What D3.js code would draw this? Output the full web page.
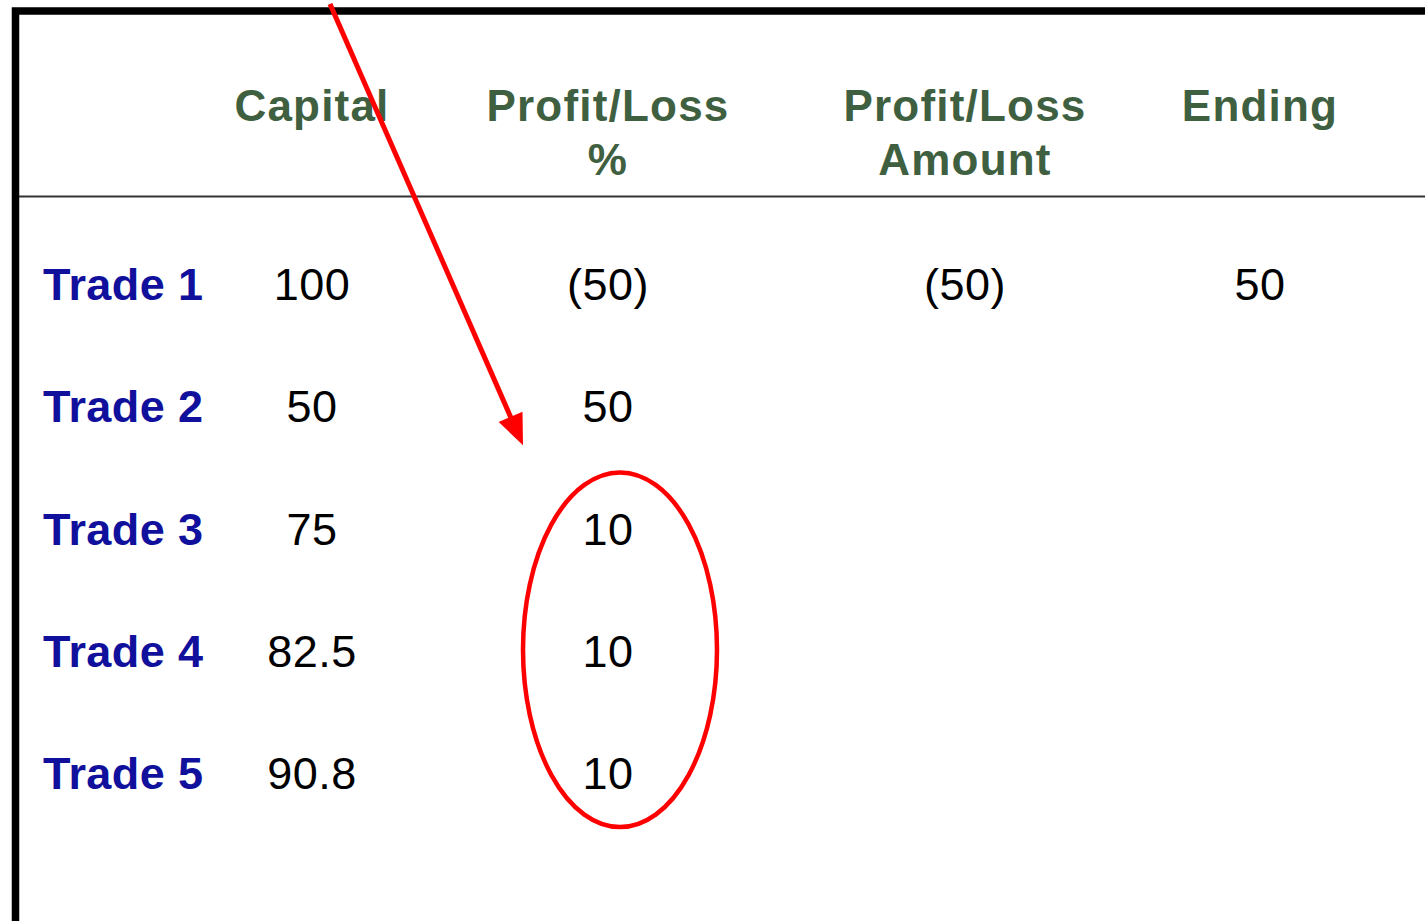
<!DOCTYPE html>
<html>
<head>
<meta charset="utf-8">
<script src="https://cdn.jsdelivr.net/npm/d3@7"></script>
<style>
  html, body { margin: 0; padding: 0; background: #fff; }
  svg { display: block; }
  .hdr { font-family: "Liberation Sans", Arial, sans-serif; font-weight: bold; fill: #3f6040; font-size: 44px; letter-spacing: 1.2px; }
  .rowLbl { font-family: "Liberation Sans", Arial, sans-serif; font-weight: bold; fill: #10109c; font-size: 45px; letter-spacing: 0.4px; }
  .cell { font-family: "Liberation Sans", Arial, sans-serif; fill: #000; font-size: 45px; letter-spacing: 0.5px; }
</style>
</head>
<body>
<div id="chart"></div>
<script>
let width = 1425;
let height = 921;

// table contents
let rows = ["Trade 1", "Trade 2", "Trade 3", "Trade 4", "Trade 5"];
let columns = ["capital", "plPct", "plAmt", "ending"];
let headerLines = [["Capital"], ["Profit/Loss", "%"], ["Profit/Loss", "Amount"], ["Ending"]];
let capital = ["100", "50", "75", "82.5", "90.8"];
let plPct = ["(50)", "50", "10", "10", "10"];
let plAmt = ["(50)", "", "", "", ""];
let ending = ["50", "", "", "", ""];

let colValues = { capital: capital, plPct: plPct, plAmt: plAmt, ending: ending };

// rows circled on the annotation
let circled = ["Trade 3", "Trade 4", "Trade 5"];

let svg = d3.select("#chart")
  .append("svg")
    .attr("width", width)
    .attr("height", height);

let yScale = d3.scalePoint()
  .domain(rows)
  .range([300, 789]);

let xScale = d3.scaleOrdinal()
  .domain(columns)
  .range([312, 608, 965, 1260]);

// frame
svg.append("path")
  .attr("d", "M15.5," + height + " V11 H" + width)
  .attr("fill", "none")
  .attr("stroke", "#000")
  .attr("stroke-width", 7.5);

// header rule
svg.append("line")
  .attr("x1", 19).attr("x2", width)
  .attr("y1", 196.5).attr("y2", 196.5)
  .attr("stroke", "#333")
  .attr("stroke-width", 2);

// headers
let hdr = svg.selectAll(".hdr")
  .data(columns)
  .enter()
  .append("text")
    .attr("class", "hdr")
    .attr("text-anchor", "middle")
    .attr("x", d => xScale(d))
    .attr("y", 121);

hdr.selectAll("tspan")
  .data((d, i) => headerLines[i].map(t => ({ t: t, col: d })))
  .enter()
  .append("tspan")
    .attr("x", d => xScale(d.col))
    .attr("dy", (d, i) => i == 0 ? 0 : 54)
    .text(d => d.t);

// row labels
svg.selectAll(".rowLbl")
  .data(rows)
  .enter()
  .append("text")
    .attr("class", "rowLbl")
    .attr("x", 43)
    .attr("y", d => yScale(d))
    .text(d => d);

// cells
columns.forEach(col => {
  svg.selectAll(".cell-" + col)
    .data(colValues[col])
    .enter()
    .append("text")
      .attr("class", "cell cell-" + col)
      .attr("text-anchor", "middle")
      .attr("x", xScale(col))
      .attr("y", (d, i) => yScale(rows[i]))
      .text(d => d);
});

// ellipse round the circled values
let yTop = yScale(circled[0]);
let yBot = yScale(circled[circled.length - 1]);
svg.append("ellipse")
  .attr("cx", xScale("plPct") + 12)
  .attr("cy", (yTop + yBot) / 2 - 17)
  .attr("rx", 97)
  .attr("ry", (yBot - yTop) / 2 + 55)
  .attr("fill", "none")
  .attr("stroke", "#f00")
  .attr("stroke-width", 4.5);

// arrow
let start = [330, 4];
let tip = [xScale("plPct") - 85, yScale("Trade 2") + 23];
let dx = tip[0] - start[0], dy = tip[1] - start[1];
let len = Math.sqrt(dx * dx + dy * dy);
let ux = dx / len, uy = dy / len;
let headLen = 31, headHalf = 13;
let base = [tip[0] - headLen * ux, tip[1] - headLen * uy];

svg.append("line")
  .attr("x1", start[0]).attr("y1", start[1])
  .attr("x2", base[0] + 2 * ux).attr("y2", base[1] + 2 * uy)
  .attr("stroke", "#f00")
  .attr("stroke-width", 5);

svg.append("path")
  .attr("d", "M" + tip[0] + "," + tip[1] +
    " L" + (base[0] - headHalf * uy) + "," + (base[1] + headHalf * ux) +
    " L" + (base[0] + headHalf * uy) + "," + (base[1] - headHalf * ux) + " Z")
  .attr("fill", "#f00");
</script>
</body>
</html>
